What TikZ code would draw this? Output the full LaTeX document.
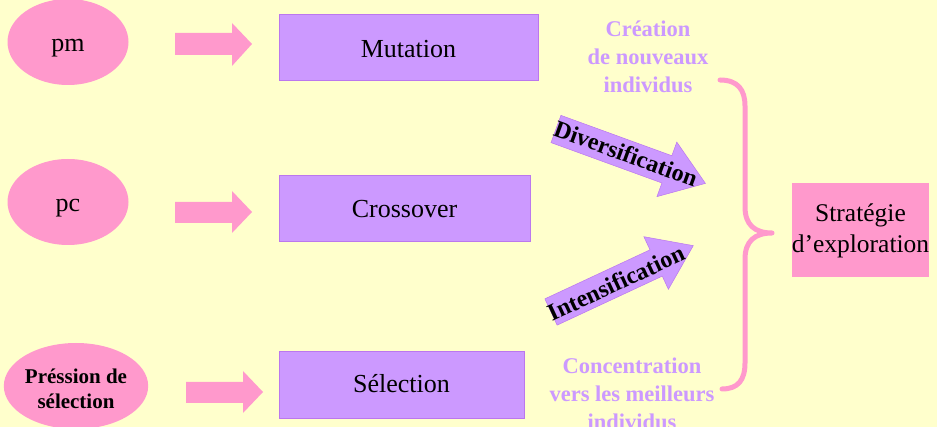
\documentclass[tikz,border=0pt]{standalone}
\usepackage{fontspec}
\setmainfont{Liberation Serif}
\usetikzlibrary{shapes.geometric}
\definecolor{bgyellow}{HTML}{FFFFCC}
\definecolor{pinkc}{HTML}{FF99CC}
\definecolor{lavc}{HTML}{CC99FF}
\definecolor{lavborder}{HTML}{BB77EE}
\newcommand{\lowertext}[2]{\raisebox{-#1}[0pt][0pt]{#2}}
\tikzset{
  param/.style={ellipse, fill=pinkc, draw=none, inner sep=0pt, minimum width=121pt, minimum height=86pt, font=\fontsize{26}{28}\selectfont},
  opbox/.style={rectangle, fill=lavc, draw=lavborder, line width=1pt, inner sep=0pt, minimum height=66pt, font=\fontsize{26}{30}\selectfont},
  blockarrow/.style={fill=pinkc, draw=none},
  diagarrow/.style={fill=lavc, draw=lavborder, line width=0.5pt},
  softlabel/.style={text=lavc, align=center, font=\bfseries\fontsize{22.5}{28}\selectfont},
  diaglabel/.style={font=\bfseries\fontsize{24}{26}\selectfont, inner sep=0pt},
  bracepath/.style={draw=pinkc, line width=5pt, line cap=round, line join=round}
}
\begin{document}
\begin{tikzpicture}[x=1pt, y=-1pt]
\fill[bgyellow] (0,0) rectangle (937,427);
\useasboundingbox (0,0) rectangle (937,427);

% parameters
\node[param] (pm) at (68,42) {\lowertext{10pt}{pm}};
\node[param] (pc) at (68,202) {\lowertext{10pt}{pc}};
\node[param, minimum width=122pt, minimum height=86pt, font=\bfseries\fontsize{21}{26}\selectfont] (ps) at (76,386) {\lowertext{10pt}{\begin{tabular}{@{}c@{}}Préssion de\\[-1pt]sélection\end{tabular}}};

% block arrows
\fill[blockarrow] (175,33) -- (232,33) -- (232,23) -- (252,44) -- (232,66) -- (232,55) -- (175,55) -- cycle;
\fill[blockarrow] (175,202) -- (232,202) -- (232,191) -- (252,212) -- (232,233) -- (232,223) -- (175,223) -- cycle;
\fill[blockarrow] (186,382) -- (243,382) -- (243,371) -- (263,392) -- (243,413) -- (243,403) -- (186,403) -- cycle;

% operators
\node[opbox, minimum width=259pt] (mut) at (408.5,48) {\lowertext{10pt}{Mutation}};
\node[opbox, minimum width=251pt] (cross) at (404.5,208.5) {\lowertext{9.5pt}{Crossover}};
\node[opbox, minimum width=245pt] (sel) at (401.5,385) {\lowertext{8pt}{Sélection}};

% soft labels
\node[softlabel] (crea) at (648,57) {Création\\de nouveaux\\individus};
\node[softlabel] (conc) at (632,394) {Concentration\\vers les meilleurs\\individus};

% diagonal arrows
\begin{scope}[shift={(556,129)}, rotate=-20, transform shape]
  \fill[diagarrow] (0,-14.5) -- (118,-14.5) -- (118,-29) -- (159,0) -- (118,29) -- (118,14.5) -- (0,14.5) -- cycle;
  \node[diaglabel] (div) at (74,-1) {Diversification};
\end{scope}
\begin{scope}[shift={(551,312)}, rotate=25, transform shape]
  \fill[diagarrow] (0,-14.5) -- (116,-14.5) -- (116,-29) -- (157,0) -- (116,29) -- (116,14.5) -- (0,14.5) -- cycle;
  \node[diaglabel] (int) at (71,1) {Intensification};
\end{scope}

% brace
\coordinate (btop) at (720,80);
\coordinate (btip) at (772,233);
\coordinate (bbot) at (722,389);
\draw[bracepath] (btop) .. controls (738,80) and (745,90) .. (745,106) -- (745,207)
  .. controls (745,225) and (755,233) .. (btip)
  .. controls (755,233) and (745,241) .. (745,259) -- (745,363)
  .. controls (745,380) and (738,389) .. (bbot);

% strategy
\node[rectangle, fill=pinkc, draw=none, minimum width=137pt, minimum height=94pt, inner sep=0pt, font=\fontsize{25.5}{32}\selectfont] (strat) at (860.5,230) {\lowertext{7pt}{\begin{tabular}{@{}c@{}}Stratégie\\[-1pt]d’exploration\end{tabular}}};
\end{tikzpicture}
\end{document}
